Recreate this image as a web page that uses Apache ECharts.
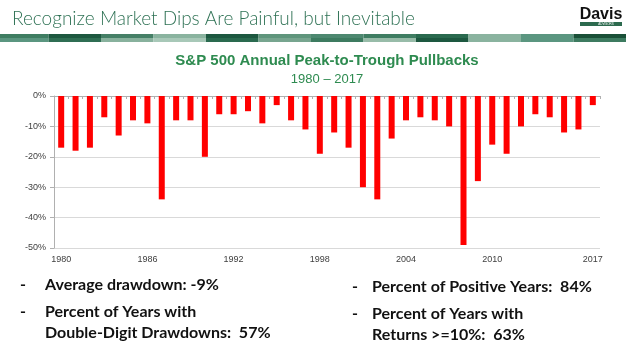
<!DOCTYPE html>
<html>
<head>
<meta charset="utf-8">
<script src="https://cdn.jsdelivr.net/npm/echarts@6/dist/echarts.min.js"></script>
<style>
  html, body { margin: 0; padding: 0; background: #ffffff; }
  #chart { width: 628px; height: 344px; }
</style>
</head>
<body>
<div id="chart"></div>
<script>
// S&P 500 largest intra-year decline, by calendar year (percent)
const years = [
  '1980','1981','1982','1983','1984','1985','1986','1987','1988','1989',
  '1990','1991','1992','1993','1994','1995','1996','1997','1998','1999',
  '2000','2001','2002','2003','2004','2005','2006','2007','2008','2009',
  '2010','2011','2012','2013','2014','2015','2016','2017'
];
const pullbacks = [
  -17, -18, -17, -7, -13, -8, -9, -34, -8, -8,
  -20, -6, -6, -5, -9, -3, -8, -11, -19, -12,
  -17, -30, -34, -14, -8, -7, -8, -10, -49, -28,
  -16, -19, -10, -6, -7, -12, -11, -3
];
const yearTickLabels = ['1980', '1986', '1992', '1998', '2004', '2010', '2017'];
const yTicks = { min: -50, max: 0, step: 10 };

const headline = 'Recognize Market Dips Are Painful, but Inevitable';
const chartTitle = 'S&P 500 Annual Peak-to-Trough Pullbacks';
const chartSubtitle = '1980 \u2013 2017';
const statsLeft = [
  ['Average drawdown: -9%'],
  ['Percent of Years with', 'Double-Digit Drawdowns:  57%']
];
const statsRight = [
  ['Percent of Positive Years:  84%'],
  ['Percent of Years with', 'Returns >=10%:  63%']
];

// banner stripe shades (top row, bottom row) per block
const stripeShades = [
  ['#3f7d62', '#5b9680'], ['#1d5840', '#2f6e53'], ['#457f66', '#88b19d'],
  ['#8ab39f', '#a8c8b8'], ['#1d5840', '#2a6a4f'], ['#5f957c', '#77a58f'],
  ['#4d8870', '#3d7b60'], ['#3f7d62', '#98bca9'], ['#2a6a4f', '#1d5840'],
  ['#8ab39f', '#8ab39f'], ['#5b9680', '#5b9680'], ['#1a5038', '#3d7b60']
];

const chart = echarts.init(document.getElementById('chart'), null, { renderer: 'canvas' });

const graphics = [];

// headline
graphics.push({
  type: 'text', left: 12, top: 9,
  style: { text: headline, fill: '#2f7255', font: '300 19px Lato, "Open Sans", sans-serif' }
});

// striped banner
const blockW = 52.5;
stripeShades.forEach((pair, i) => {
  const x = -4 + i * blockW;
  graphics.push({ type: 'rect', shape: { x: x, y: 34, width: blockW, height: 4 }, style: { fill: pair[0] }, silent: true });
  graphics.push({ type: 'rect', shape: { x: x, y: 38, width: blockW, height: 4 }, style: { fill: pair[1] }, silent: true });
});

// logo
graphics.push({
  type: 'text', x: 601, y: 15,
  style: { text: 'Davis', fill: '#111111', font: 'bold 16px "Liberation Sans", Arial, sans-serif', align: 'center', verticalAlign: 'middle' }
});
graphics.push({ type: 'rect', shape: { x: 580, y: 22, width: 42, height: 4 }, style: { fill: '#2c6a4e' } });
graphics.push({
  type: 'text', x: 606, y: 24,
  style: { text: 'ADVISORS', fill: '#ffffff', font: '3px sans-serif', align: 'center', verticalAlign: 'middle' }
});

// chart titles
graphics.push({
  type: 'text', x: 327, y: 61,
  style: { text: chartTitle, fill: '#2e8b50', font: 'bold 15px "Liberation Sans", Arial, sans-serif', align: 'center', verticalAlign: 'middle' }
});
graphics.push({
  type: 'text', x: 327, y: 79,
  style: { text: chartSubtitle, fill: '#2e8b50', font: '13px "Liberation Sans", Arial, sans-serif', align: 'center', verticalAlign: 'middle' }
});

// summary bullets
const bulletFont = 'bold 16px Lato, Carlito, "Open Sans", sans-serif';
function addBullets(items, dashX, textX, rowYs) {
  let r = 0;
  items.forEach((lines) => {
    graphics.push({ type: 'text', x: dashX, y: rowYs[r], style: { text: '-', fill: '#111', font: bulletFont, verticalAlign: 'middle' } });
    lines.forEach((ln) => {
      graphics.push({ type: 'text', x: textX, y: rowYs[r], style: { text: ln, fill: '#111', font: bulletFont, verticalAlign: 'middle' } });
      r++;
    });
  });
}
addBullets(statsLeft, 20, 45, [285, 312, 333]);
addBullets(statsRight, 352, 372, [287, 314, 335]);

chart.setOption({
  animation: false,
  backgroundColor: '#ffffff',
  grid: { left: 54, right: 28, top: 96, bottom: 96, containLabel: false },
  xAxis: [
    {
      type: 'category',
      data: years,
      position: 'bottom',
      axisLine: { show: false, onZero: false },
      axisTick: { show: false },
      axisLabel: {
        color: '#404040', fontSize: 9, margin: 7,
        fontFamily: '"Liberation Sans", Arial, sans-serif',
        interval: (i, v) => yearTickLabels.includes(v)
      }
    },
    {
      type: 'category',
      data: years,
      position: 'top',
      axisLine: { show: true, onZero: false, lineStyle: { color: '#b0b0b0', width: 1 } },
      axisTick: { show: true, inside: true, length: 3, interval: 0, lineStyle: { color: '#b0b0b0' } },
      axisLabel: { show: false }
    }
  ],
  yAxis: {
    type: 'value',
    min: yTicks.min, max: yTicks.max, interval: yTicks.step,
    axisLine: { show: true, lineStyle: { color: '#b0b0b0' } },
    axisTick: { show: true, length: 4, lineStyle: { color: '#b0b0b0' } },
    splitLine: { show: true, lineStyle: { color: '#d9d9d9', width: 1 } },
    axisLabel: {
      color: '#404040', fontSize: 9, margin: 8,
      fontFamily: '"Liberation Sans", Arial, sans-serif',
      formatter: (v) => v + '%'
    }
  },
  series: [{
    type: 'bar',
    xAxisIndex: 0,
    data: pullbacks,
    barWidth: 6,
    itemStyle: { color: '#ff0000' }
  }],
  graphic: graphics
});
</script>
</body>
</html>
